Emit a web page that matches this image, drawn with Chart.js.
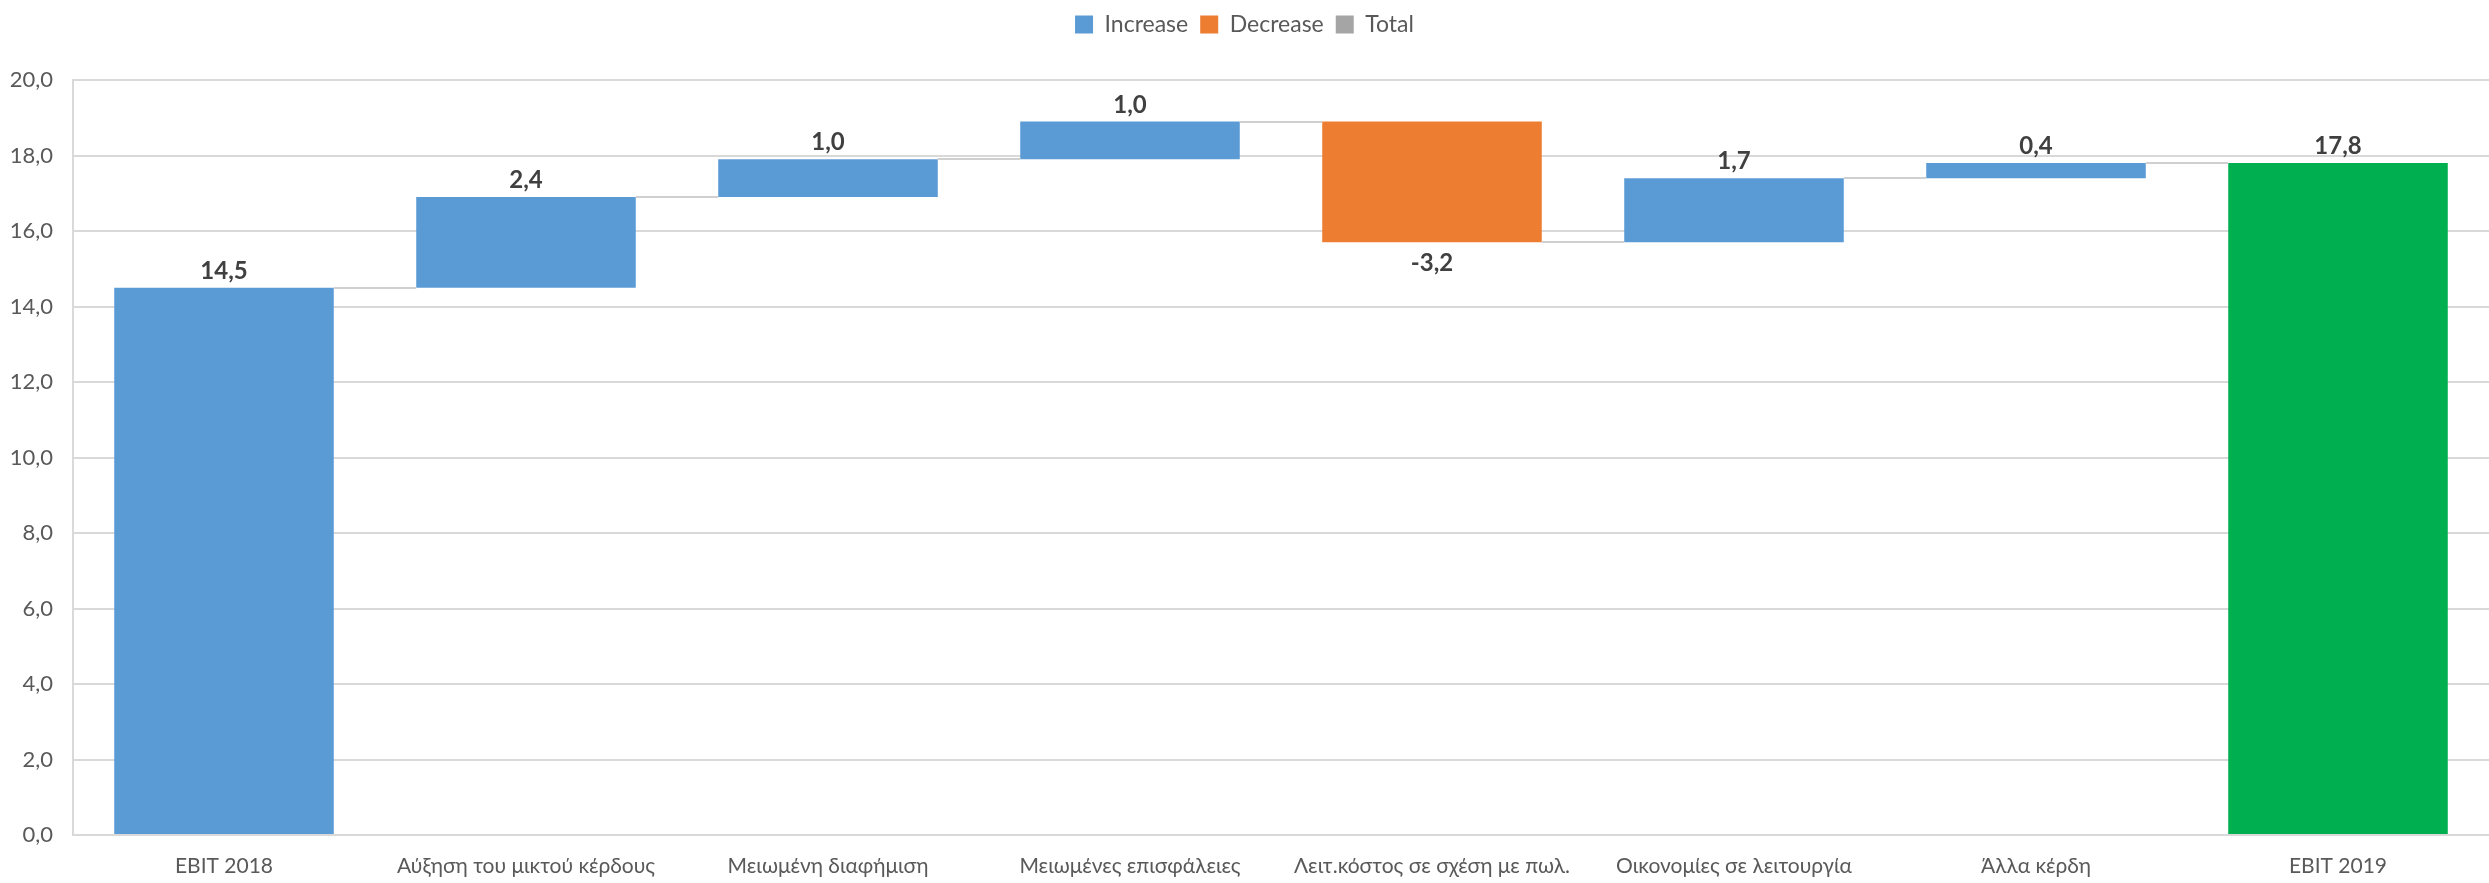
<!DOCTYPE html>
<html>
<head>
<meta charset="utf-8">
<script src="https://cdn.jsdelivr.net/npm/chart.js@4/dist/chart.umd.min.js"></script>
<style>
  html, body { margin: 0; padding: 0; background: #fff; }
  #wrap { width: 2489px; height: 883px; position: relative; }
</style>
</head>
<body>
<div id="wrap"><canvas id="chart"></canvas></div>
<script>
// Chart values
const categories = ['EBIT 2018', 'Αύξηση του μικτού κέρδους', 'Μειωμένη διαφήμιση', 'Μειωμένες επισφάλειες',
  'Λειτ.κόστος σε σχέση με πωλ.', 'Οικονομίες σε λειτουργία', 'Άλλα κέρδη', 'EBIT 2019'];
const startTotal = 14.5;
const changes = [2.4, 1.0, 1.0, -3.2, 1.7, 0.4];
const endTotal = 17.8;
const yTicks = [0, 2, 4, 6, 8, 10, 12, 14, 16, 18, 20];

const colors = { increase: '#5b9bd5', decrease: '#ed7d31', total: '#a5a5a5', start: '#5b9bd5', end: '#00b050' };
const FONT = 'Lato, "Open Sans", sans-serif';

// Build floating ranges from the values
const increaseData = [null];
const decreaseData = [null];
const totalData = [[0, startTotal]];
let running = startTotal;
changes.forEach(c => {
  const from = running;
  running = Math.round((running + c) * 10) / 10;
  if (c >= 0) { increaseData.push([from, running]); decreaseData.push(null); }
  else { decreaseData.push([running, from]); increaseData.push(null); }
  totalData.push(null);
});
increaseData.push(null);
decreaseData.push(null);
totalData.push([0, endTotal]);

const labelValues = [startTotal, ...changes, endTotal];
const levels = [startTotal];
changes.forEach(c => levels.push(Math.round((levels[levels.length - 1] + c) * 10) / 10));

const fmt = v => v.toFixed(1).replace('.', ',');

// extra room under the legend
const legendGap = {
  id: 'legendGap',
  beforeInit(chart) {
    const fit = chart.legend.fit;
    chart.legend.fit = function () {
      fit.bind(chart.legend)();
      this.height += 34;
    };
  }
};

const waterfallPlugin = {
  id: 'waterfall',
  afterDatasetsDraw(chart) {
    const ctx = chart.ctx;
    const y = chart.scales.y;
    const bars = [];
    chart.data.datasets.forEach((ds, di) => {
      const meta = chart.getDatasetMeta(di);
      ds.data.forEach((d, i) => { if (d) bars[i] = meta.data[i]; });
    });
    // connectors
    ctx.save();
    ctx.strokeStyle = '#d0d0d0';
    ctx.lineWidth = 2;
    for (let i = 0; i < bars.length - 1; i++) {
      const a = bars[i], b = bars[i + 1];
      const py = Math.round(y.getPixelForValue(levels[i]));
      ctx.beginPath();
      ctx.moveTo(a.x + a.width / 2, py);
      ctx.lineTo(b.x - b.width / 2, py);
      ctx.stroke();
    }
    // value labels
    ctx.font = '700 24px ' + FONT;
    ctx.fillStyle = '#404040';
    ctx.textAlign = 'center';
    bars.forEach((bar, i) => {
      const v = labelValues[i];
      const top = Math.min(bar.y, bar.base);
      const bottom = Math.max(bar.y, bar.base);
      if (v < 0) {
        ctx.textBaseline = 'top';
        ctx.fillText(fmt(v), bar.x, bottom + 9);
      } else {
        ctx.textBaseline = 'alphabetic';
        ctx.fillText(fmt(v), bar.x, top - 9);
      }
    });
    ctx.restore();
  }
};

const legendColors = [colors.increase, colors.decrease, colors.total];

new Chart(document.getElementById('chart'), {
  type: 'bar',
  data: {
    labels: categories,
    datasets: [
      { label: 'Increase', data: increaseData, backgroundColor: colors.increase, grouped: false },
      { label: 'Decrease', data: decreaseData, backgroundColor: colors.decrease, grouped: false },
      { label: 'Total', data: totalData, backgroundColor: [colors.start, null, null, null, null, null, null, colors.end], grouped: false }
    ]
  },
  options: {
    responsive: true,
    maintainAspectRatio: false,
    animation: false,
    devicePixelRatio: 1,
    barPercentage: 0.727,
    categoryPercentage: 1,
    layout: { padding: { top: 1, right: 0, left: 0, bottom: 0 } },
    plugins: {
      tooltip: { enabled: false },
      legend: {
        position: 'top',
        labels: {
          boxWidth: 18,
          boxHeight: 18,
          padding: 12,
          color: '#595959',
          font: { family: FONT, size: 23 },
          generateLabels: chart => Chart.defaults.plugins.legend.labels.generateLabels(chart).map((l, i) => ({
            ...l, fillStyle: legendColors[i], strokeStyle: legendColors[i], lineWidth: 0
          }))
        }
      }
    },
    scales: {
      x: {
        afterFit: axis => { axis.height = 48; },
        grid: { display: false, drawTicks: false },
        border: { color: '#d9d9d9', width: 2 },
        ticks: {
          color: '#595959',
          padding: 19,
          maxRotation: 0,
          autoSkip: false,
          font: { family: FONT, size: 21 }
        }
      },
      y: {
        min: 0,
        max: 20,
        afterFit: axis => { axis.width = 73; },
        afterBuildTicks: axis => { axis.ticks = yTicks.map(v => ({ value: v })); },
        grid: { color: '#d9d9d9', lineWidth: 2, drawTicks: false },
        border: { color: '#d9d9d9', width: 2 },
        ticks: {
          color: '#595959',
          padding: 20,
          font: { family: FONT, size: 22 },
          callback: v => fmt(v)
        }
      }
    }
  },
  plugins: [legendGap, waterfallPlugin]
});
</script>
</body>
</html>
